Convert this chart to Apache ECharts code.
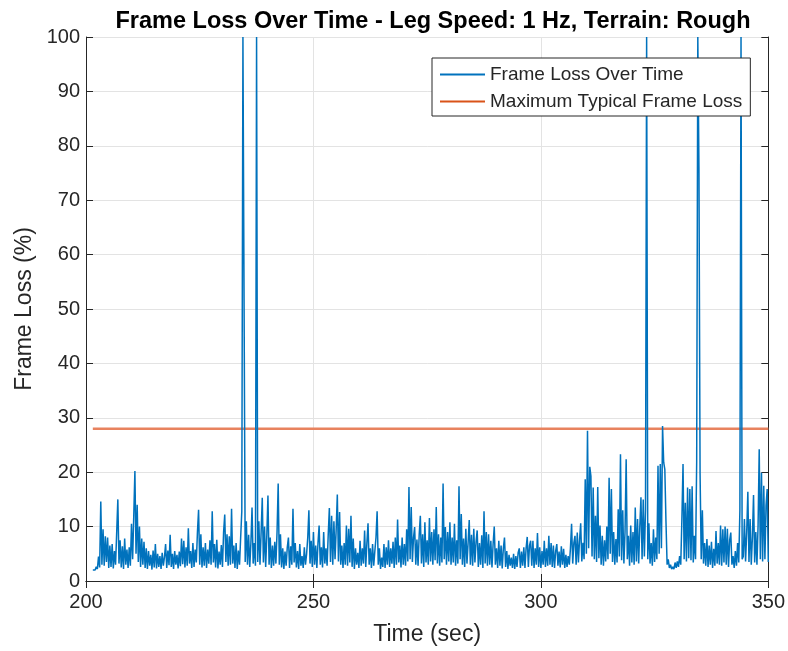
<!DOCTYPE html>
<html>
<head>
<meta charset="utf-8">
<title>Frame Loss Over Time</title>
<script src="https://cdn.jsdelivr.net/npm/echarts@6/dist/echarts.min.js"></script>
<style>
    html, body { margin: 0; padding: 0; background: #fff; }
    #chart { width: 788px; height: 651px; }
</style>
</head>
<body>
<div id="chart"></div>
<script>
// sampled every 0.25 s starting at 201.5 s (one row = 5 s)
const startTime = 201.5;
const sampleStep = 0.25;
const frameLoss = [
    2.0, 2.1, 2.0, 2.6, 2.2, 4.5, 2.5, 14.6, 3.0, 9.5, 2.8, 8.2, 3.5, 8.0, 2.4, 6.5, 2.6, 6.8, 2.3, 5.5,
    3.0, 9.0, 15.0, 3.2, 7.5, 2.5, 6.4, 2.2, 7.8, 3.0, 5.8, 2.4, 6.2, 2.8, 10.5, 4.0, 12.0, 20.2, 5.0, 14.0,
    3.5, 10.0, 2.6, 7.8, 3.0, 7.2, 2.4, 6.0, 2.2, 5.5, 2.8, 4.8, 2.1, 5.6, 2.5, 6.8, 2.3, 5.0, 2.6, 4.6,
    2.2, 5.2, 2.8, 4.4, 6.8, 2.4, 5.6, 2.9, 8.5, 2.6, 5.0, 2.2, 5.5, 3.0, 4.8, 2.3, 5.4, 2.7, 7.8, 3.1,
    7.4, 2.5, 6.2, 2.8, 9.7, 3.2, 5.5, 2.4, 7.0, 2.6, 5.8, 3.4, 9.0, 13.1, 3.0, 8.6, 2.5, 6.2, 2.8, 7.0,
    2.4, 5.8, 3.2, 7.5, 3.0, 12.8, 3.4, 6.8, 2.5, 7.6, 2.3, 5.4, 3.0, 6.6, 2.6, 9.0, 12.2, 3.5, 8.6, 2.8,
    8.2, 3.0, 13.3, 3.2, 6.5, 2.4, 7.0, 2.2, 5.6, 3.0, 8.0, 12.8, 100, 100, 3.5, 11.0, 3.0, 8.5, 2.6, 7.0,
    13.5, 3.2, 7.0, 2.8, 100, 3.5, 11.0, 3.0, 9.0, 15.3, 3.4, 10.0, 2.6, 8.4, 15.7, 3.0, 8.0, 2.4, 6.5, 2.8,
    7.2, 3.2, 9.0, 17.9, 3.0, 8.6, 2.5, 6.0, 2.2, 5.4, 2.8, 6.2, 8.0, 2.4, 6.4, 3.0, 13.3, 3.4, 7.0, 2.5,
    5.5, 2.2, 6.8, 2.8, 4.6, 2.4, 6.2, 3.0, 5.0, 8.0, 13.0, 3.2, 7.4, 2.6, 9.0, 3.0, 6.5, 2.4, 7.0, 10.2,
    3.0, 6.2, 2.5, 9.0, 3.2, 6.0, 2.8, 8.5, 13.4, 3.5, 12.0, 3.0, 11.0, 4.0, 9.5, 15.9, 3.6, 12.7, 3.0, 6.5,
    2.4, 7.0, 3.0, 10.2, 2.8, 9.6, 3.4, 12.0, 2.6, 7.8, 2.2, 6.0, 3.0, 5.2, 2.4, 7.4, 2.8, 6.0, 3.2, 9.3,
    2.6, 7.0, 10.6, 3.0, 6.0, 2.4, 6.8, 2.8, 5.5, 8.0, 12.8, 3.0, 6.0, 2.2, 4.3, 2.6, 6.8, 2.4, 6.2, 3.0,
    7.5, 2.6, 6.0, 3.2, 7.2, 2.4, 8.0, 3.0, 11.3, 3.4, 6.5, 2.5, 8.0, 3.0, 6.8, 2.8, 9.5, 3.6, 17.3, 4.0,
    13.6, 3.5, 8.0, 9.9, 3.0, 7.6, 2.8, 8.5, 12.0, 3.2, 8.6, 2.6, 10.8, 3.4, 7.5, 3.0, 11.6, 3.6, 9.0, 3.0,
    9.5, 3.8, 13.6, 3.2, 8.6, 2.8, 8.0, 3.4, 17.9, 4.0, 9.9, 3.0, 9.0, 3.6, 10.8, 3.0, 8.0, 3.4, 10.5, 2.8,
    7.5, 3.2, 17.4, 4.0, 12.3, 3.0, 7.8, 2.6, 9.6, 3.2, 7.0, 11.2, 3.0, 8.5, 2.8, 9.6, 3.4, 7.2, 9.3, 2.6,
    7.0, 3.0, 8.4, 2.4, 12.8, 3.2, 9.0, 2.8, 8.6, 3.0, 7.4, 2.5, 6.8, 10.0, 3.0, 6.0, 2.4, 7.4, 2.8, 6.5,
    2.3, 6.0, 8.0, 2.6, 5.5, 2.2, 4.8, 2.8, 4.3, 2.4, 5.0, 2.2, 4.6, 2.6, 5.2, 6.0, 2.4, 5.4, 2.8, 6.2,
    2.4, 6.0, 8.1, 2.6, 6.5, 7.4, 2.8, 7.4, 2.4, 6.0, 3.0, 8.8, 2.6, 6.2, 2.4, 5.5, 3.0, 7.4, 2.6, 6.0,
    2.8, 8.3, 3.0, 7.0, 2.6, 6.5, 2.4, 5.5, 6.8, 2.8, 5.4, 2.5, 6.4, 3.0, 5.9, 2.4, 4.8, 2.6, 4.6, 3.0,
    6.0, 10.5, 3.2, 7.0, 8.3, 3.0, 8.9, 3.4, 7.5, 10.6, 3.6, 7.0, 4.0, 18.7, 5.0, 27.6, 6.0, 21.0, 19.3, 4.5,
    17.2, 4.0, 12.0, 3.5, 17.3, 4.2, 10.2, 3.0, 8.3, 2.8, 7.5, 3.6, 10.0, 4.0, 19.0, 5.0, 16.9, 3.5, 9.0, 3.0,
    7.7, 3.4, 13.2, 4.5, 23.3, 3.8, 13.0, 3.2, 9.0, 22.4, 4.0, 8.3, 2.8, 10.2, 3.4, 9.0, 3.0, 13.5, 3.6, 11.4,
    3.2, 10.0, 15.4, 4.0, 15.0, 4.5, 13.0, 100, 4.0, 10.6, 3.2, 7.0, 2.8, 9.5, 3.5, 8.0, 4.0, 21.2, 5.0, 21.5,
    6.0, 28.5, 21.8, 20.5, 11.0, 3.0, 4.0, 2.4, 3.0, 2.2, 2.6, 2.2, 3.4, 2.4, 3.6, 2.6, 4.6, 3.0, 11.4, 21.5,
    4.0, 14.4, 3.6, 17.2, 4.2, 16.9, 3.8, 17.4, 3.4, 8.3, 4.0, 21.8, 100, 76, 19.6, 4.0, 13.0, 3.2, 7.0, 2.8,
    7.7, 2.6, 6.5, 3.0, 7.2, 2.4, 5.9, 2.8, 9.2, 3.2, 7.0, 3.0, 10.2, 2.8, 9.5, 3.4, 10.0, 3.0, 9.6, 2.6,
    7.5, 8.9, 3.0, 4.6, 2.4, 5.5, 2.8, 7.0, 3.4, 12.9, 100, 4.0, 4.5, 11.4, 3.6, 9.0, 16.4, 3.5, 11.4, 3.0,
    8.0, 15.8, 3.4, 9.0, 3.0, 10.2, 24.2, 4.0, 19.9, 3.6, 17.5, 4.0, 13.9, 16.9, 3.5
];
const typicalMaxLoss = 28;
const xTicks = [200, 250, 300, 350];
const yTicks = [0, 10, 20, 30, 40, 50, 60, 70, 80, 90, 100];

const lossPoints = frameLoss.map((v, i) => [startTime + i * sampleStep, v]);
const endTime = startTime + (frameLoss.length - 1) * sampleStep;
const typicalPoints = [[startTime, typicalMaxLoss], [endTime, typicalMaxLoss]];

const axisColor = '#262626';
const gridColor = '#e3e3e3';
const font = '"Liberation Sans", Arial, Helvetica, sans-serif';

const chart = echarts.init(document.getElementById('chart'));

const option = {
    backgroundColor: '#fff',
    animation: false,
    title: {
        text: 'Frame Loss Over Time - Leg Speed: 1 Hz, Terrain: Rough',
        left: 428,
        top: 5,
        textAlign: 'center',
        textStyle: { fontFamily: font, fontSize: 23.5, fontWeight: 'bold', color: '#000' },
    },
    legend: {
        orient: 'vertical',
        left: 432,
        top: 58,
        padding: [7, 8, 5, 8],
        itemGap: 8,
        itemWidth: 45,
        itemHeight: 2,
        icon: 'rect',
        backgroundColor: '#fff',
        borderColor: axisColor,
        borderWidth: 1,
        borderRadius: 0,
        textStyle: { fontFamily: font, fontSize: 19, color: '#262626' },
        data: [
            { name: 'Frame Loss Over Time', itemStyle: { color: '#0072BD' } },
            { name: 'Maximum Typical Frame Loss', itemStyle: { color: '#D95319' } },
        ],
    },
    grid: { left: 86, right: 18, top: 37, bottom: 69 },
    xAxis: [
        {
            type: 'value',
            min: xTicks[0],
            max: xTicks[xTicks.length - 1],
            interval: 50,
            name: 'Time (sec)',
            nameLocation: 'middle',
            nameGap: 42,
            nameTextStyle: { fontFamily: font, fontSize: 23, color: axisColor },
            axisLine: { show: true, onZero: false, lineStyle: { color: axisColor, width: 1 } },
            axisTick: { show: true, inside: true, length: 7, lineStyle: { color: axisColor } },
            axisLabel: { fontFamily: font, fontSize: 20, color: axisColor, margin: 11 },
            splitLine: { show: true, lineStyle: { color: gridColor, width: 1 } },
        },
        {
            type: 'value',
            position: 'top',
            min: xTicks[0],
            max: xTicks[xTicks.length - 1],
            interval: 50,
            axisLine: { show: true, lineStyle: { color: axisColor, width: 1 } },
            axisTick: { show: true, inside: true, length: 7, lineStyle: { color: axisColor } },
            axisLabel: { show: false },
            splitLine: { show: false },
        },
    ],
    yAxis: [
        {
            type: 'value',
            min: yTicks[0],
            max: yTicks[yTicks.length - 1],
            interval: 10,
            name: 'Frame Loss (%)',
            nameLocation: 'middle',
            nameGap: 50,
            nameTextStyle: { fontFamily: font, fontSize: 23, color: axisColor },
            axisLine: { show: true, onZero: false, lineStyle: { color: axisColor, width: 1 } },
            axisTick: { show: true, inside: true, length: 7, lineStyle: { color: axisColor } },
            axisLabel: { fontFamily: font, fontSize: 20, color: axisColor, margin: 6 },
            splitLine: { show: true, lineStyle: { color: gridColor, width: 1 } },
        },
        {
            type: 'value',
            position: 'right',
            min: yTicks[0],
            max: yTicks[yTicks.length - 1],
            interval: 10,
            axisLine: { show: true, lineStyle: { color: axisColor, width: 1 } },
            axisTick: { show: true, inside: true, length: 7, lineStyle: { color: axisColor } },
            axisLabel: { show: false },
            splitLine: { show: false },
        },
    ],
    series: [
        {
            name: 'Frame Loss Over Time',
            type: 'line',
            data: lossPoints,
            showSymbol: false,
            symbol: 'none',
            sampling: null,
            z: 3,
            lineStyle: { color: '#0072BD', width: 1.5 },
            itemStyle: { color: '#0072BD' },
        },
        {
            name: 'Maximum Typical Frame Loss',
            type: 'line',
            data: typicalPoints,
            showSymbol: false,
            symbol: 'none',
            z: 2,
            lineStyle: { color: '#e8825e', width: 2.4 },
            itemStyle: { color: '#D95319' },
        },
    ],
};

chart.setOption(option);

window.addEventListener('resize', () => chart.resize());
</script>
</body>
</html>
